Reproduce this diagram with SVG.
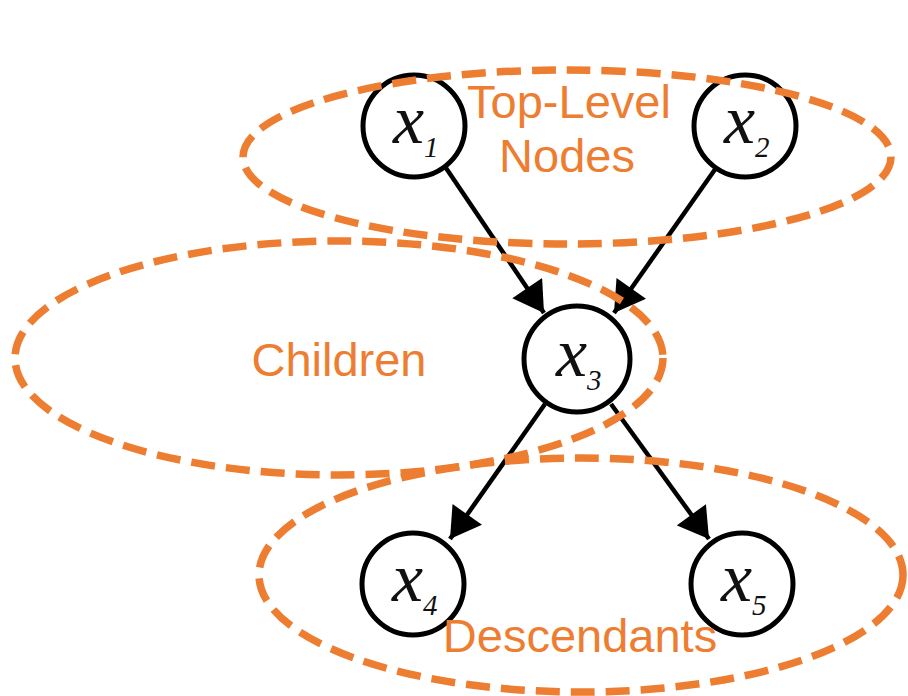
<svg xmlns="http://www.w3.org/2000/svg" width="908" height="696" viewBox="0 0 908 696">
<style>
.node circle{fill:#fff;stroke:#000;stroke-width:5}
.var{font-family:"Liberation Serif","Times New Roman",serif;font-style:italic;fill:#111}
.v{font-size:70px}
.s{font-size:29px}
.edge{stroke:#000;stroke-width:4.5;fill:none;marker-end:url(#ah)}
.grp{fill:none;stroke:#ED7D31;stroke-width:7.5;stroke-dasharray:24 11}
.lbl{font-family:"Liberation Sans",Arial,sans-serif;font-size:47px;fill:#ED7D31;text-anchor:middle}
</style>
<defs>
<marker id="ah" viewBox="0 0 10 12" refX="10" refY="6" markerWidth="7" markerHeight="8" markerUnits="strokeWidth" orient="auto">
<path d="M0,0 L10,6 L0,12 Z" fill="#000"/>
</marker>
</defs>
<rect width="908" height="696" fill="#fff"/>
<g id="connectors">
<line class="edge" x1="446" y1="168" x2="544" y2="313"/>
<line class="edge" x1="716" y1="168" x2="614" y2="313"/>
<line class="edge" x1="545" y1="404" x2="450" y2="539"/>
<line class="edge" x1="611" y1="404" x2="709" y2="539"/>
</g>
<g id="x1" class="node"><circle cx="414" cy="126" r="51"/><text class="var v" x="393" y="143">x</text><text class="var s" x="424" y="157">1</text></g>
<g id="x2" class="node"><circle cx="745" cy="126" r="51"/><text class="var v" x="724" y="143">x</text><text class="var s" x="755" y="157">2</text></g>
<g id="x3" class="node"><circle cx="577" cy="359" r="53"/><text class="var v" x="556" y="376">x</text><text class="var s" x="587" y="390">3</text></g>
<g id="x4" class="node"><circle cx="413" cy="584" r="51"/><text class="var v" x="392" y="601">x</text><text class="var s" x="423" y="615">4</text></g>
<g id="x5" class="node"><circle cx="742" cy="584" r="51"/><text class="var v" x="721" y="601">x</text><text class="var s" x="752" y="615">5</text></g>
<g id="groups">
<ellipse class="grp" cx="567" cy="157" rx="324" ry="87"/>
<ellipse class="grp" cx="339" cy="358" rx="324" ry="117"/>
<ellipse class="grp" cx="581" cy="575" rx="322" ry="117"/>
<text class="lbl" x="569" y="118">Top-Level</text>
<text class="lbl" x="567" y="172">Nodes</text>
<text class="lbl" x="339" y="376">Children</text>
<text class="lbl" x="580" y="652">Descendants</text>
</g>
</svg>
